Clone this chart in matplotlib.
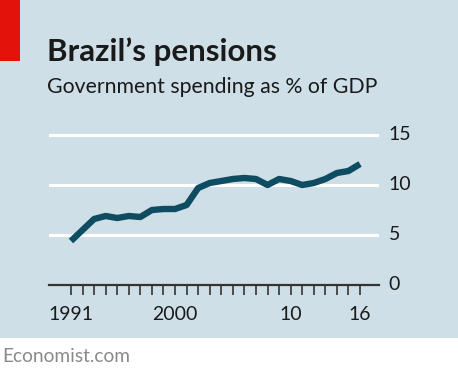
import numpy as np
import matplotlib.pyplot as plt
from matplotlib.patches import Rectangle

# data
years = list(range(1991, 2017))
spending = [4.4, 5.5, 6.6, 6.9, 6.7, 6.9, 6.8, 7.5, 7.6, 7.6,
            8.0, 9.7, 10.2, 10.4, 10.6, 10.7, 10.6, 10.0, 10.6, 10.4,
            10.0, 10.2, 10.6, 11.2, 11.4, 12.1]
xtick_pos = [1991, 2000, 2010, 2016]
xtick_labels = ['1991', '2000', '10', '16']
yticks = [0, 5, 10, 15]

bg = '#cfdfe8'
line_col = '#0e4c62'
font = ['Lato', 'DejaVu Sans']
plt.rcParams['font.family'] = font

W, H = 458, 376
fig = plt.figure(figsize=(W / 100, H / 100), dpi=100)
fig.patch.set_facecolor('white')

# blue background panel and red tag (behind the axes)
fig.patches.append(Rectangle((0, 38 / H), 1, 1 - 38 / H, transform=fig.transFigure,
                             facecolor=bg, edgecolor='none', zorder=-10))
fig.patches.append(Rectangle((0, 1 - 61 / H), 20 / W, 61 / H, transform=fig.transFigure,
                             facecolor='#e3120b', edgecolor='none', zorder=-9))

ax = fig.add_axes([49 / W, (H - 285) / H, 330 / W, 160 / H])
ax.set_facecolor('none')
ax.set_xlim(1989.1, 2017.64)
ax.set_ylim(0, 16)

for v in yticks[1:]:
    ax.axhline(v, color='white', lw=2.2, zorder=1)
ax.axhline(0, color='#333333', lw=1.6, zorder=2, clip_on=False)

ax.plot(years, spending, color=line_col, lw=4.6, solid_capstyle='butt',
        solid_joinstyle='round', zorder=3, clip_on=False)

for s in ax.spines.values():
    s.set_visible(False)

ax.yaxis.tick_right()
ax.set_yticks(yticks)
ax.set_yticklabels([str(v) for v in yticks])
ax.tick_params(axis='y', length=0, pad=7, labelsize=14, labelcolor='#1a1a1a')

ax.set_xticks(years, minor=True)
ax.set_xticks(xtick_pos)
ax.set_xticklabels(xtick_labels)
ax.tick_params(axis='x', which='both', direction='out', length=7.2, width=1.2,
               color='#333333')
ax.tick_params(axis='x', which='major', pad=8, labelsize=14, labelcolor='#1a1a1a')
for lbl in ax.get_yticklabels():
    lbl.set_verticalalignment('center')

fig.text(47 / W, 1 - 52 / H, 'Brazil\u2019s pensions', fontsize=22.5, fontweight='bold',
         color='#1a1a1a', va='center', ha='left')
fig.text(47 / W, 1 - 87 / H, 'Government spending as % of GDP', fontsize=15.3,
         color='#1a1a1a', va='center', ha='left')
fig.text(2 / W, 1 - 357 / H, 'Economist.com', fontsize=13.8, color='#8a8a8a',
         va='center', ha='left')

fig.savefig('out.png', dpi=100, facecolor=fig.get_facecolor())
